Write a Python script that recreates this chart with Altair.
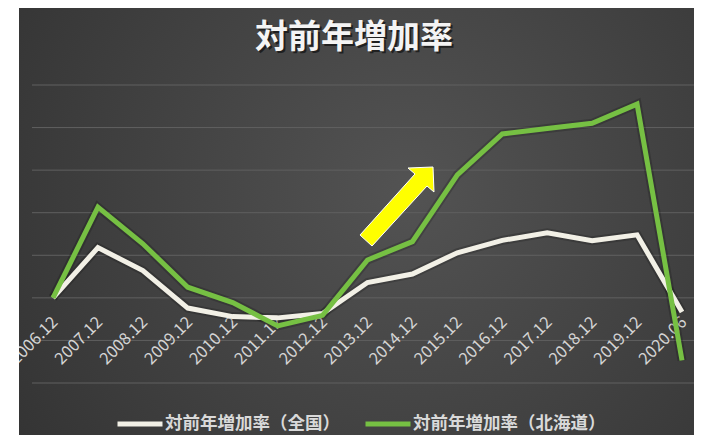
import altair as alt
import pandas as pd

# ---------------- data ----------------
categories = ["2006.12", "2007.12", "2008.12", "2009.12", "2010.12", "2011.12", "2012.12",
              "2013.12", "2014.12", "2015.12", "2016.12", "2017.12", "2018.12", "2019.12", "2020.06"]
national = [0.0, 1.18, 0.64, -0.24, -0.44, -0.47, -0.37, 0.36, 0.56, 1.06, 1.35, 1.53, 1.34, 1.48, -0.33]
hokkaido = [0.0, 2.13, 1.27, 0.25, -0.11, -0.66, -0.41, 0.89, 1.32, 2.89, 3.85, 3.98, 4.10, 4.55, -1.47]
series_names = ["対前年増加率（全国）", "対前年増加率（北海道）"]
series_colors = ["#f2f0e6", "#76c043"]
grid_values = [-2, -1, 0, 1, 2, 3, 4, 5]
title_text = "対前年増加率"

FONT = "Noto Sans CJK JP"
W, H = 662, 298

rows = []
for name, vals in zip(series_names, [national, hokkaido]):
    for c, v in zip(categories, vals):
        rows.append({"cat": c, "value": v, "series": name})
df = pd.DataFrame(rows)
grid_df = pd.DataFrame({"g": grid_values})
cat_df = pd.DataFrame({"cat": categories})
one = pd.DataFrame({"k": [0]})

yscale = alt.Scale(domain=[-2, 5], nice=False, zero=False)
xscale = alt.Scale(type="point", domain=categories, range=[21, 650], padding=0)

# background panel with radial gradient
bg = alt.Chart(one).mark_rect(
    fill={"gradient": "radial",
          "stops": [{"offset": 0, "color": "#535353"}, {"offset": 1, "color": "#2f2f2f"}],
          "x1": 0.58, "y1": 0.45, "x2": 0.58, "y2": 0.45, "r1": 0, "r2": 0.8}
).encode(x=alt.value(-13), x2=alt.value(W), y=alt.value(-77), y2=alt.value(H + 52))

grid = alt.Chart(grid_df).mark_rule(color="#606060", strokeWidth=1).encode(
    y=alt.Y("g:Q", scale=yscale, axis=None),
    x=alt.value(0), x2=alt.value(W),
)

# category labels placed on the zero line, rotated 45 degrees
labels = alt.Chart(cat_df).mark_text(
    angle=315, align="right", baseline="middle", dx=-14, dy=17,
    font=FONT, fontSize=16.5, color="#d4d4d4"
).encode(
    x=alt.X("cat:N", scale=xscale, sort=categories, axis=None),
    y=alt.YDatum(0, scale=yscale, axis=None),
    text="cat:N",
)

shadow = alt.Chart(df).mark_line(strokeWidth=9, color="#000000", opacity=0.18).encode(
    x=alt.X("cat:N", scale=xscale, sort=categories, axis=None),
    y=alt.Y("value:Q", scale=yscale, axis=None),
    detail="series:N",
)

lines = alt.Chart(df).mark_line(strokeWidth=5).encode(
    x=alt.X("cat:N", scale=xscale, sort=categories, axis=None),
    y=alt.Y("value:Q", scale=yscale, axis=None),
    color=alt.Color("series:N",
                    scale=alt.Scale(domain=series_names, range=series_colors),
                    legend=alt.Legend(title=None, orient="none", legendX=83, legendY=314,
                                      direction="horizontal", symbolType="stroke",
                                      symbolSize=2025, symbolStrokeWidth=5,
                                      labelFontSize=17.5, labelColor="#d9d9d9", labelFont=FONT,
                                      labelFontWeight="bold", labelOffset=0, columnPadding=15,
                                      labelLimit=400)),
    order=alt.Order("series:N"),
)

# white margin strip at the left edge (clips the first label like the original)
strip = alt.Chart(one).mark_rect(fill="#ffffff").encode(
    x=alt.value(-24), x2=alt.value(-13), y=alt.value(-77), y2=alt.value(H + 52))

title_shadow = alt.Chart(one).mark_text(
    text=title_text, font=FONT, fontSize=33, fontWeight="bold", color="#000000",
    opacity=0.55, align="center", baseline="middle", dx=2, dy=2
).encode(x=alt.value(322), y=alt.value(-47))

title = alt.Chart(one).mark_text(
    text=title_text, font=FONT, fontSize=33, fontWeight="bold", color="#f4f4f4",
    align="center", baseline="middle"
).encode(x=alt.value(322), y=alt.value(-47))

ARROW = "M0.72,-0.78 L0.22,-0.76 L0.36,-0.64 L-0.74,0.58 L-0.5,0.8 L0.6,-0.4 L0.74,-0.28 Z"
arrow = alt.Chart(one).mark_point(
    shape=ARROW, filled=True, fill="#ffff00", stroke="#ffffff", strokeWidth=1,
    size=10000, opacity=1
).encode(x=alt.value(365), y=alt.value(121))

chart = alt.layer(bg, grid, labels, shadow, lines, strip, arrow, title_shadow, title).properties(
    width=W, height=H,
    padding={"left": 24, "top": 77, "right": 0, "bottom": 52},
    autosize=alt.AutoSizeParams(type="none"),
    background="#ffffff",
).configure_view(stroke="transparent")

chart.save("out.html", embed_options={"renderer": "svg", "actions": False})
